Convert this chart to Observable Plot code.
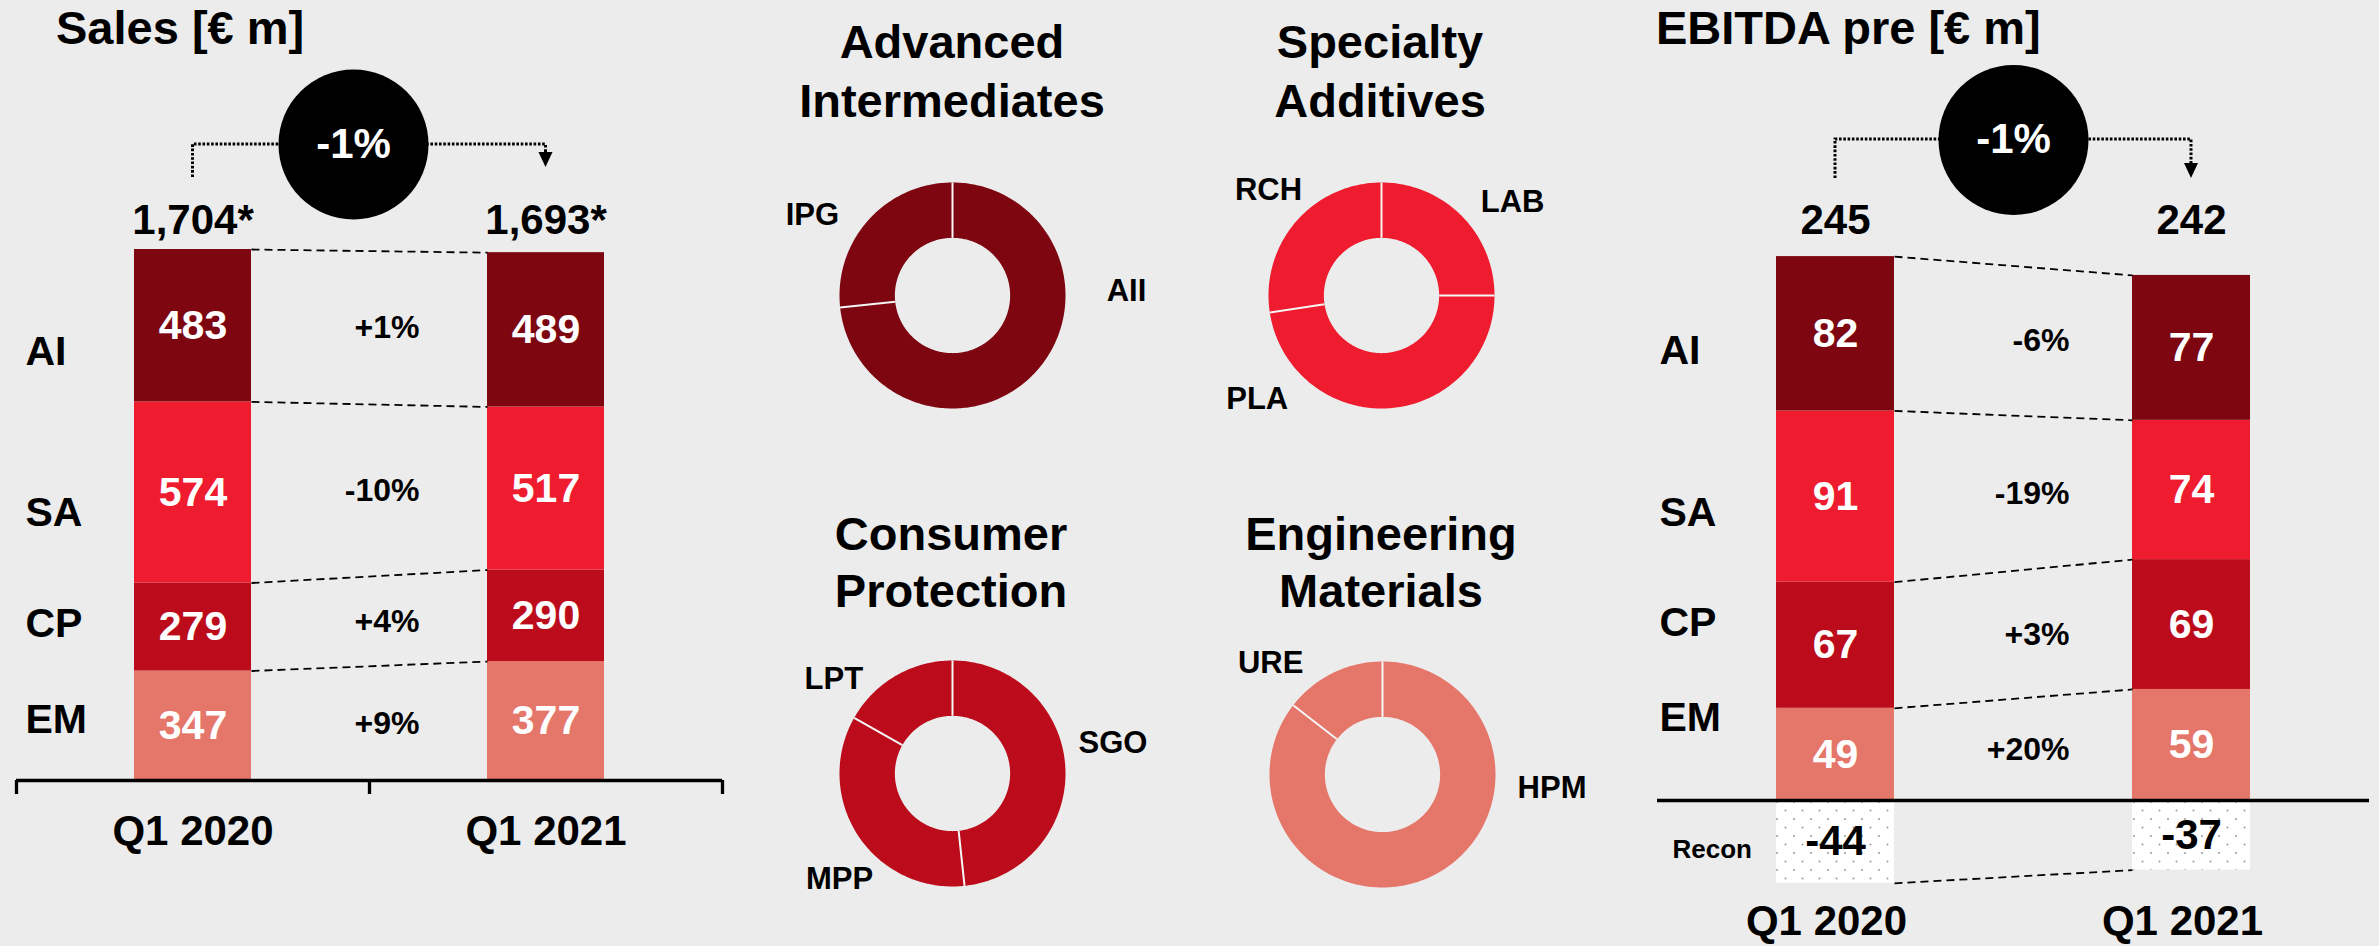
<!DOCTYPE html>
<html><head><meta charset="utf-8">
<script src="https://cdn.jsdelivr.net/npm/d3@7"></script>
<script src="https://cdn.jsdelivr.net/npm/@observablehq/plot@0.6"></script>
<style>
html,body{margin:0;padding:0;background:#ececec;}
#page{position:relative;width:2379px;height:946px;overflow:hidden;background:#ececec;font-family:"Liberation Sans",Arial,sans-serif;font-weight:bold;color:#000;}
.panel{position:absolute;}
.title{position:absolute;font-size:47px;white-space:nowrap;line-height:58px;}
.ctitle{transform:translateX(-50%);text-align:center;}
</style></head><body><div id="page"></div>
<script>
// ---------------- DATA ----------------
const periods = ["Q1 2020", "Q1 2021"];
const segments = ["AI", "SA", "CP", "EM"];

const salesAI = [483, 489];
const salesSA = [574, 517];
const salesCP = [279, 290];
const salesEM = [347, 377];
const salesTotals = ["1,704*", "1,693*"];
const salesChanges = ["+1%", "-10%", "+4%", "+9%"];
const salesTotalChange = "-1%";

const ebitdaAI = [82, 77];
const ebitdaSA = [91, 74];
const ebitdaCP = [67, 69];
const ebitdaEM = [49, 59];
const ebitdaRecon = [-44, -37];
const ebitdaTotals = ["245", "242"];
const ebitdaChanges = ["-6%", "-19%", "+3%", "+20%"];
const ebitdaTotalChange = "-1%";

const aiUnits = ["AII", "IPG"];        const aiShares = [73.3, 26.7];
const saUnits = ["LAB", "PLA", "RCH"]; const saShares = [25, 47.6, 27.4];
const cpUnits = ["SGO", "MPP", "LPT"]; const cpShares = [48.3, 34.9, 16.8];
const emUnits = ["HPM", "URE"];        const emShares = [85.5, 14.5];

// ---------------- STYLE / LAYOUT ----------------
const FONT = "'Liberation Sans', Arial, sans-serif";
const segColors = {AI: "#7d0611", SA: "#ee1c2e", CP: "#bc0c1b", EM: "#e5766a"};
const donutTitles = [
  {lines: ["Advanced", "Intermediates"], cx: 952, top: 12, lh: 59},
  {lines: ["Specialty", "Additives"], cx: 1380, top: 12, lh: 59},
  {lines: ["Consumer", "Protection"], cx: 951, top: 505, lh: 57},
  {lines: ["Engineering", "Materials"], cx: 1381, top: 505, lh: 57}
];
const labelPos = {
  IPG: [-1.24, 0.71], AII: [1.54, 0.04],
  RCH: [-1.0, 0.93], LAB: [1.16, 0.83], PLA: [-1.10, -0.92],
  LPT: [-1.05, 0.84], SGO: [1.42, 0.27], MPP: [-1.0, -0.93],
  URE: [-0.99, 0.99], HPM: [1.50, -0.12]
};

const page = document.getElementById("page");
function addTitle(text, left, top, centered) {
  const d = document.createElement("div");
  d.className = "title" + (centered ? " ctitle" : "");
  d.style.left = left + "px"; d.style.top = top + "px";
  d.innerHTML = text;
  page.appendChild(d);
}
addTitle("Sales [€ m]", 56, -1, false);
addTitle("EBITDA pre [€ m]", 1656, -1, false);
donutTitles.forEach(t => {
  const d = document.createElement("div");
  d.className = "title ctitle";
  d.style.left = t.cx + "px"; d.style.top = t.top + "px"; d.style.lineHeight = t.lh + "px";
  d.innerHTML = t.lines.join("<br>");
  page.appendChild(d);
});

// ---------------- BAR PANELS ----------------
const HW = 0.1657; // half bar width in period units
function barPanel(cfg) {
  const stackOrder = ["EM", "CP", "SA", "AI"];
  const rows = [];
  const cum = [[], []];
  periods.forEach((p, i) => {
    let c = 0;
    stackOrder.forEach(s => {
      const v = cfg.series[s][i];
      rows.push({i, seg: s, v, y1: c, y2: c + v});
      c += v;
      cum[i].push(c);
    });
  });
  const links = stackOrder.map((s, j) => ({y1: cum[0][j], y2: cum[1][j]}));
  const reconRows = cfg.recon ? cfg.recon.map((v, i) => ({i, v})) : [];
  if (cfg.recon) links.push({y1: cfg.recon[0], y2: cfg.recon[1]});
  const changeRows = segments.map((s, j) => {
    const a = rows.find(r => r.i === 0 && r.seg === s), b = rows.find(r => r.i === 1 && r.seg === s);
    return {text: cfg.changes[j], y: (a.y1 + a.y2 + b.y1 + b.y2) / 4};
  });
  const txt = {fontWeight: "bold", lineAnchor: "middle"};
  const marks = [
    Plot.rect(rows, {x1: d => d.i - HW, x2: d => d.i + HW, y1: "y1", y2: "y2", fill: "seg"}),
    Plot.rect(reconRows, {x1: d => d.i - HW, x2: d => d.i + HW, y1: () => 0, y2: "v", fill: "url(#dots)"}),
    Plot.link(links, {x1: () => HW, x2: () => 1 - HW, y1: "y1", y2: "y2", stroke: "black", strokeWidth: 1.8, strokeDasharray: "8,5"}),
    Plot.text(rows, {x: "i", y: d => (d.y1 + d.y2) / 2, text: d => String(d.v), fill: "white", fontSize: 41, ...txt}),
    Plot.text(reconRows, {x: "i", y: d => d.v / 2, text: d => String(d.v), fill: "black", fontSize: 42, ...txt}),
    Plot.text(changeRows, {x: () => 0.5, y: "y", text: "text", textAnchor: "end", dx: cfg.changeDx, fontSize: 32, ...txt}),
    Plot.ruleY([0], {x1: () => -0.5, x2: () => 1.5, stroke: "black", strokeWidth: cfg.axisWidth}),
    Plot.text(cfg.totals, {x: (d, i) => i, frameAnchor: "top", dy: cfg.totalY, text: d => d, fontSize: 42, ...txt}),
    Plot.text(periods, {x: (d, i) => i, y: () => 0, dy: cfg.periodDy, dx: cfg.periodDx, text: d => d, fontSize: 42, ...txt}),
    Plot.dot([cfg.totalChange], {x: () => 0.5, frameAnchor: "top", dy: cfg.circleY, dx: cfg.circleDx, r: 75, fill: "black"}),
    Plot.text([cfg.totalChange], {x: () => 0.5, frameAnchor: "top", dy: cfg.circleY, dx: cfg.circleDx, text: d => d, fill: "white", fontSize: 42, ...txt}),
    ...segments.map((s, j) => Plot.text([s], {frameAnchor: "top-left", dx: cfg.rowX, dy: cfg.rowY[j], text: d => d, textAnchor: "start", fontSize: 41, ...txt}))
  ];
  if (cfg.recon) marks.push(Plot.text(["Recon"], {frameAnchor: "top-left", dx: cfg.reconX, dy: cfg.reconY, text: d => d, textAnchor: "start", fontSize: 26, ...txt}));
  if (cfg.ticks) marks.push(Plot.ruleX([-0.5, 0.5, 1.5], {x: d => d, y1: () => 0, y2: () => -cfg.tickLen / cfg.k, stroke: "black", strokeWidth: 3.3}));

  const plot = Plot.plot({
    width: cfg.width, height: 946,
    marginTop: 0, marginLeft: 0, marginRight: 0, marginBottom: 0,
    style: {background: "transparent", overflow: "visible", maxWidth: "none", fontFamily: FONT},
    x: {type: "linear", domain: [0, 1], range: cfg.xRange, axis: null, label: null},
    y: {type: "linear", domain: [0, cfg.yMax], range: [cfg.zeroY, cfg.zeroY - cfg.k * cfg.yMax], axis: null, label: null},
    color: {domain: segments, range: segments.map(s => segColors[s])},
    marks
  });
  if (cfg.recon) {
    const defs = d3.create("svg:defs");
    const pat = defs.append("pattern").attr("id", "dots").attr("patternUnits", "userSpaceOnUse")
      .attr("width", 17).attr("height", 17);
    pat.append("rect").attr("width", 17).attr("height", 17).attr("fill", "white");
    pat.append("circle").attr("cx", 4).attr("cy", 3).attr("r", 1).attr("fill", "#9a9a9a");
    pat.append("circle").attr("cx", 12.5).attr("cy", 11.5).attr("r", 1).attr("fill", "#9a9a9a");
    plot.insertBefore(defs.node(), plot.firstChild);
  }
  // dotted bracket connector between the two totals (behind the circle)
  const sx = plot.scale("x");
  const xa = sx.apply(0), xb = sx.apply(1);
  const c = cfg.conn;
  const g = d3.create("svg:g");
  g.append("path").attr("d", `M${xa},${c.bottom}V${c.level}H${xb}V${c.arrowTop}`)
    .attr("fill", "none").attr("stroke", "black").attr("stroke-width", 3).attr("stroke-dasharray", "2.6,1.7");
  g.append("path").attr("d", `M${xb - 7},${c.arrowTop}H${xb + 7}L${xb},${c.tip}Z`).attr("fill", "black");
  plot.insertBefore(g.node(), plot.firstChild);

  const wrap = document.createElement("div");
  wrap.className = "panel";
  wrap.style.left = cfg.left + "px"; wrap.style.top = "0px"; wrap.style.width = cfg.width + "px";
  wrap.appendChild(plot);
  page.appendChild(wrap);
}

barPanel({
  left: 0, width: 760,
  series: {AI: salesAI, SA: salesSA, CP: salesCP, EM: salesEM},
  totals: salesTotals, changes: salesChanges, totalChange: salesTotalChange,
  xRange: [192.5, 545.5], zeroY: 780, k: 0.3155, yMax: 1000,
  changeDx: 50, axisWidth: 3.3, ticks: true, tickLen: 14,
  totalY: 220, periodDy: 51.5, periodDx: 0, circleY: 144, circleDx: -16,
  rowX: 25, rowY: [351, 512, 623, 719],
  conn: {level: 144, bottom: 177, arrowTop: 152, tip: 167}
});

barPanel({
  left: 1620, width: 759,
  series: {AI: ebitdaAI, SA: ebitdaSA, CP: ebitdaCP, EM: ebitdaEM},
  recon: ebitdaRecon,
  totals: ebitdaTotals, changes: ebitdaChanges, totalChange: ebitdaTotalChange,
  xRange: [215, 571], zeroY: 800, k: 1.882, yMax: 100,
  changeDx: 56, axisWidth: 3.5, ticks: false,
  totalY: 220, periodDy: 121, periodDx: -9, circleY: 139.5, circleDx: 0,
  rowX: 39, rowY: [350, 512, 622.6, 717.5],
  reconX: 52, reconY: 849,
  conn: {level: 139, bottom: 178, arrowTop: 163, tip: 178}
});

// ---------------- DONUTS ----------------
function donut(cfg) {
  const W = 460, H = 300, R = 113, inner = 0.51;
  let acc = 0;
  const pts = [], seps = [];
  cfg.units.forEach((u, j) => {
    const a0 = acc / 100 * 2 * Math.PI, a1 = (acc + cfg.shares[j]) / 100 * 2 * Math.PI;
    seps.push(a0);
    const n = Math.max(2, Math.ceil((a1 - a0) / (Math.PI / 180)));
    for (let k = 0; k <= n; k++) { const a = a0 + (a1 - a0) * k / n; pts.push({u, x: Math.sin(a), y: Math.cos(a)}); }
    for (let k = n; k >= 0; k--) { const a = a0 + (a1 - a0) * k / n; pts.push({u, x: inner * Math.sin(a), y: inner * Math.cos(a)}); }
    acc += cfg.shares[j];
  });
  const plot = Plot.plot({
    width: W, height: H, margin: 0,
    style: {background: "transparent", overflow: "visible", maxWidth: "none", fontFamily: FONT},
    x: {domain: [-1, 1], range: [W / 2 - R, W / 2 + R], axis: null, label: null},
    y: {domain: [-1, 1], range: [H / 2 + R, H / 2 - R], axis: null, label: null},
    marks: [
      Plot.line(pts, {x: "x", y: "y", z: "u", fill: cfg.color, stroke: "none", curve: "linear-closed"}),
      Plot.link(seps, {x1: a => inner * Math.sin(a), y1: a => inner * Math.cos(a), x2: a => Math.sin(a), y2: a => Math.cos(a), stroke: "#f6f6f6", strokeWidth: 2}),
      Plot.text(cfg.units, {x: u => labelPos[u][0], y: u => labelPos[u][1], text: d => d, fontSize: 31, fontWeight: "bold", lineAnchor: "middle"})
    ]
  });
  const wrap = document.createElement("div");
  wrap.className = "panel";
  wrap.style.left = (cfg.cx - W / 2) + "px"; wrap.style.top = (cfg.cy - H / 2) + "px"; wrap.style.width = W + "px";
  wrap.appendChild(plot);
  page.appendChild(wrap);
}
donut({units: aiUnits, shares: aiShares, color: segColors.AI, cx: 952, cy: 295});
donut({units: saUnits, shares: saShares, color: segColors.SA, cx: 1381, cy: 295});
donut({units: cpUnits, shares: cpShares, color: segColors.CP, cx: 952, cy: 773});
donut({units: emUnits, shares: emShares, color: segColors.EM, cx: 1382, cy: 774});
</script></body></html>
